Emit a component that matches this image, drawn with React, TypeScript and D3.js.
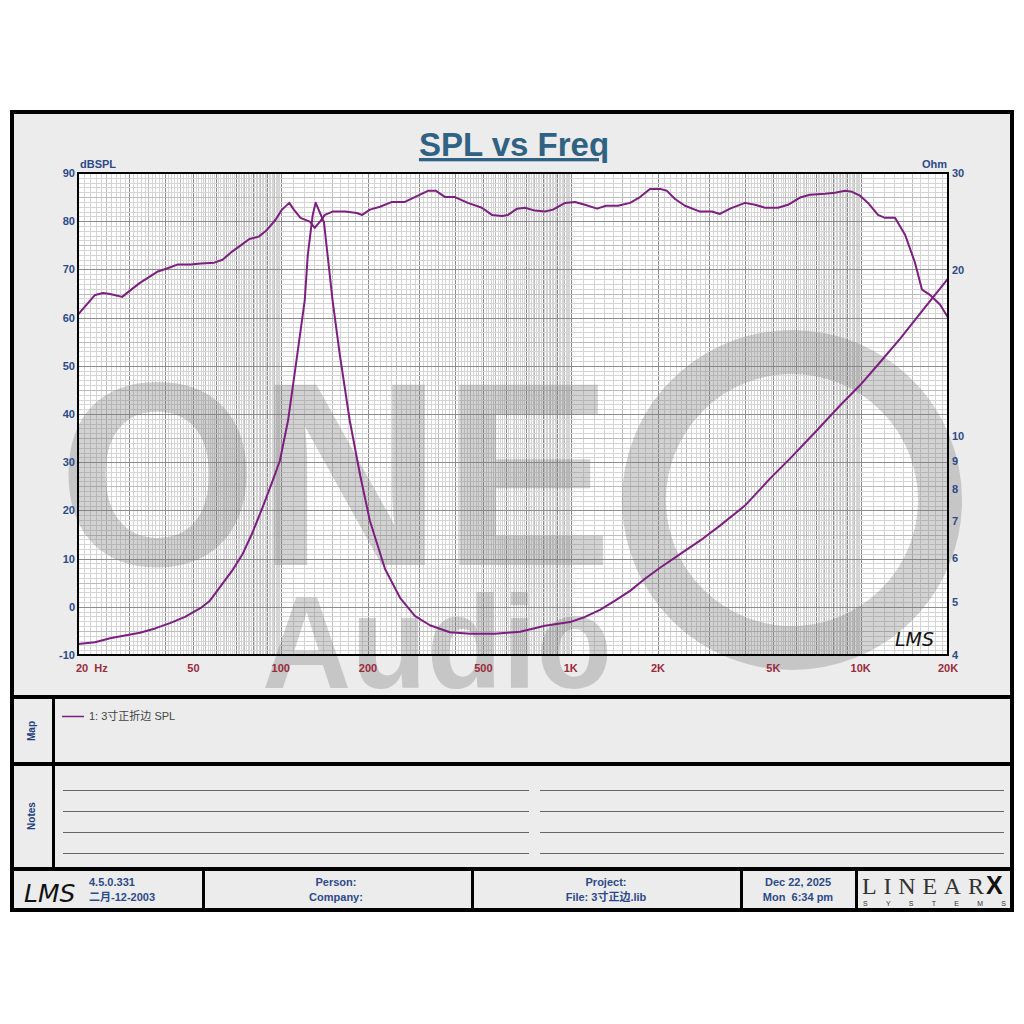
import { useEffect, useRef } from "react";
import * as d3 from "d3";

// SPL curve (Hz, dBSPL)
const splFreq = [20, 22.9, 24.4, 25.8, 28.4, 30.2, 32.7, 37.5, 41, 44, 49, 53, 59, 63, 68, 74, 78, 84, 89, 96, 101, 107, 111, 117, 126, 131, 137, 142, 151, 167, 183, 191, 203, 220, 242, 268, 290, 322, 343, 369, 399, 442, 494, 535, 580, 608, 653, 696, 753, 815, 869, 956, 1035, 1120, 1232, 1324, 1456, 1602, 1734, 1877, 2032, 2148, 2289, 2478, 2792, 3070, 3272, 3544, 3990, 4320, 4678, 5186, 5614, 6176, 6686, 7532, 8154, 8828, 9334, 9944, 10600, 11470, 12130, 13130, 14220, 15390, 16270, 17340, 18770, 20000];
const splDb = [60.6, 64.7, 65.1, 64.9, 64.3, 65.6, 67.2, 69.5, 70.3, 71, 71, 71.2, 71.4, 72, 73.7, 75.3, 76.3, 76.8, 78, 80.3, 82.4, 83.8, 82.4, 80.7, 79.9, 78.6, 80, 81.3, 82, 82, 81.7, 81.3, 82.4, 83, 84, 84, 85, 86.3, 86.3, 85, 85, 83.8, 82.8, 81.3, 81.1, 81.3, 82.6, 82.8, 82.2, 82, 82.4, 83.8, 84, 83.4, 82.6, 83.2, 83.2, 83.8, 85, 86.7, 86.7, 86.3, 84.6, 83.2, 82, 82, 81.5, 82.6, 83.8, 83.4, 82.8, 82.8, 83.4, 84.9, 85.5, 85.7, 85.9, 86.3, 86.1, 85.3, 83.8, 81.3, 80.7, 80.7, 77.2, 71.4, 65.8, 64.7, 62.7, 60];

// impedance curve (Hz, Ohm)
const impFreq = [20, 22.9, 25.8, 29, 32.7, 36.9, 41.5, 46.8, 53, 57, 63, 68, 74, 79.6, 86.2, 93.3, 99.4, 106, 112, 121, 124, 129, 132, 141, 151, 160, 173, 188, 203, 229, 258, 290, 327, 383, 450, 548, 669, 815, 994, 1120, 1262, 1422, 1602, 1804, 2032, 2382, 2792, 3272, 3990, 4866, 5704, 6950, 8486, 9944, 11660, 13660, 16660, 20000];
const impOhm = [4.19, 4.22, 4.29, 4.34, 4.39, 4.47, 4.57, 4.69, 4.87, 5.02, 5.39, 5.69, 6.11, 6.64, 7.37, 8.22, 9.02, 10.66, 13.1, 17.6, 21.3, 25.2, 26.5, 24.4, 17.6, 14, 10.66, 8.47, 7.01, 5.73, 5.08, 4.71, 4.53, 4.4, 4.37, 4.37, 4.41, 4.52, 4.59, 4.69, 4.83, 5.02, 5.23, 5.5, 5.76, 6.1, 6.45, 6.87, 7.47, 8.36, 9.09, 10.14, 11.35, 12.35, 13.6, 15.0, 17.1, 19.3];

const dbTicks = [90, 80, 70, 60, 50, 40, 30, 20, 10, 0, -10];
const ohmTicks = [30, 20, 10, 9, 8, 7, 6, 5, 4];
const freqTicks = [20, 50, 100, 200, 500, 1000, 2000, 5000, 10000, 20000];
const freqLabels = ["20  Hz", "50", "100", "200", "500", "1K", "2K", "5K", "10K", "20K"];

const legendLabel = "1: 3寸正折边 SPL";
const footerVersion = ["4.5.0.331", "二月-12-2003"];
const footerPerson = ["Person:", "Company:"];
const footerProject = ["Project:", "File: 3寸正边.lib"];
const footerDate = ["Dec 22, 2025", "Mon  6:34 pm"];

const FONT = "'Liberation Sans', Arial, 'Noto Sans CJK SC', sans-serif";
const BLUE = "#2c4a88";
const RED = "#9a2a3c";
const PURPLE = "#7c1f80";

export default function App() {
  const ref = useRef<SVGSVGElement | null>(null);

  useEffect(() => {
    const svg = d3.select(ref.current);
    svg.selectAll("*").remove();

    const L = 78, R = 948, T = 173, B = 655;
    const x = d3.scaleLog().domain([20, 20000]).range([L, R]);
    const yL = d3.scaleLinear().domain([-10, 90]).range([B, T]);
    const yR = d3.scaleLog().domain([4, 30]).range([B, T]);

    // panel background
    svg.append("rect").attr("x", 12).attr("y", 112).attr("width", 1000).attr("height", 798).attr("fill", "#ececec");

    // plot area
    svg.append("rect").attr("x", L).attr("y", T).attr("width", R - L).attr("height", B - T).attr("fill", "#fff");

    const grid = svg.append("g").attr("shape-rendering", "crispEdges");
    // vertical log grid
    const vlines: { f: number; k: number }[] = [];
    [10, 100, 1000, 10000].forEach((d) => {
      for (let n = 10; n < 100; n++) {
        const f = (n * d) / 10;
        if (f < 20 || f > 20000) continue;
        vlines.push({ f, k: n % 10 === 0 ? 2 : n % 5 === 0 ? 1 : 0 });
      }
    });
    vlines.push({ f: 20000, k: 2 });
    const gridColor = (k: number) => (k === 2 ? "#8c8c8c" : k === 1 ? "#bdbdbd" : "#d5d5d5");
    grid
      .selectAll("line.v")
      .data(vlines.sort((a, b) => a.k - b.k))
      .enter()
      .append("line")
      .attr("x1", (d) => Math.round(x(d.f)) + 0.5)
      .attr("x2", (d) => Math.round(x(d.f)) + 0.5)
      .attr("y1", T)
      .attr("y2", B)
      .attr("stroke", (d) => gridColor(d.k))
      .attr("stroke-width", 1);

    // horizontal grid, 1 dB steps
    const hlines = d3.range(-10, 91, 1).map((v) => ({ v, k: v % 10 === 0 ? 2 : v % 5 === 0 ? 1 : 0 }));
    grid
      .selectAll("line.h")
      .data(hlines.sort((a, b) => a.k - b.k))
      .enter()
      .append("line")
      .attr("x1", L)
      .attr("x2", R)
      .attr("y1", (d) => Math.round(yL(d.v)) + 0.5)
      .attr("y2", (d) => Math.round(yL(d.v)) + 0.5)
      .attr("stroke", (d) => gridColor(d.k))
      .attr("stroke-width", 1);

    // watermark
    const wm = svg.append("g").attr("opacity", 0.32).attr("fill", "#777");
    wm.append("text")
      .attr("x", 58)
      .attr("y", 565)
      .attr("font-family", FONT)
      .attr("font-weight", "bold")
      .attr("font-size", 262)
      .attr("textLength", 555)
      .attr("lengthAdjust", "spacingAndGlyphs")
      .text("ONE");
    wm.append("circle")
      .attr("cx", 792)
      .attr("cy", 500)
      .attr("r", 148)
      .attr("fill", "none")
      .attr("stroke", "#777")
      .attr("stroke-width", 44);
    wm.append("text")
      .attr("x", 262)
      .attr("y", 688)
      .attr("font-family", FONT)
      .attr("font-weight", "bold")
      .attr("font-size", 132)
      .attr("textLength", 350)
      .attr("lengthAdjust", "spacingAndGlyphs")
      .text("Audio");

    // curves
    const spl = splFreq.map((f, i) => [f, splDb[i]] as [number, number]);
    const imp = impFreq.map((f, i) => [f, impOhm[i]] as [number, number]);
    svg.append("path")
      .datum(spl)
      .attr("fill", "none")
      .attr("stroke", PURPLE)
      .attr("stroke-width", 2)
      .attr("stroke-linejoin", "round")
      .attr("d", d3.line<[number, number]>().x((d) => x(d[0])).y((d) => yL(d[1])));
    svg.append("path")
      .datum(imp)
      .attr("fill", "none")
      .attr("stroke", PURPLE)
      .attr("stroke-width", 2)
      .attr("stroke-linejoin", "round")
      .attr("d", d3.line<[number, number]>().x((d) => x(d[0])).y((d) => yR(d[1])));

    // plot border
    svg.append("rect")
      .attr("x", L)
      .attr("y", T)
      .attr("width", R - L)
      .attr("height", B - T)
      .attr("fill", "none")
      .attr("stroke", "#000")
      .attr("stroke-width", 2);

    // LMS signature inside plot
    svg.append("text")
      .attr("x", 895)
      .attr("y", 646)
      .attr("font-family", "'DejaVu Sans', sans-serif")
      .attr("font-style", "italic")
      .attr("font-size", 19)
      .attr("fill", "#111")
      .text("LMS");

    // title
    svg.append("text")
      .attr("x", 514)
      .attr("y", 156)
      .attr("text-anchor", "middle")
      .attr("font-family", FONT)
      .attr("font-weight", "bold")
      .attr("font-size", 33)
      .attr("fill", "#2f6283")
      .attr("text-decoration", "underline")
      .text("SPL vs Freq");

    // axis labels
    const axisText = (sel: any) =>
      sel.attr("font-family", FONT).attr("font-weight", "bold").attr("font-size", 11);
    svg.selectAll("text.yl")
      .data(dbTicks)
      .enter()
      .append("text")
      .call(axisText)
      .attr("x", 75)
      .attr("y", (d: number) => yL(d) + 4)
      .attr("text-anchor", "end")
      .attr("fill", BLUE)
      .text((d: number) => d);
    svg.selectAll("text.yr")
      .data(ohmTicks)
      .enter()
      .append("text")
      .call(axisText)
      .attr("x", 952)
      .attr("y", (d: number) => yR(d) + 4)
      .attr("fill", BLUE)
      .text((d: number) => d);
    svg.selectAll("text.xb")
      .data(freqTicks)
      .enter()
      .append("text")
      .call(axisText)
      .attr("x", (d: number, i: number) => (i === 0 ? 76 : x(d)))
      .attr("y", 672)
      .attr("text-anchor", (d: number, i: number) => (i === 0 ? "start" : "middle"))
      .attr("fill", RED)
      .attr("xml:space", "preserve")
      .style("white-space", "pre")
      .text((d: number, i: number) => freqLabels[i]);
    svg.append("text").call(axisText).attr("x", 80).attr("y", 168).attr("fill", BLUE).text("dBSPL");
    svg.append("text").call(axisText).attr("x", 947).attr("y", 168).attr("text-anchor", "end").attr("fill", BLUE).text("Ohm");

    // map section
    svg.append("line").attr("x1", 62).attr("x2", 84).attr("y1", 716.5).attr("y2", 716.5).attr("stroke", PURPLE).attr("stroke-width", 1.5);
    svg.append("text")
      .attr("x", 89)
      .attr("y", 720)
      .attr("font-family", FONT)
      .attr("font-size", 11)
      .attr("fill", "#444")
      .text(legendLabel);

    const sideLabel = (t: string, cy: number) =>
      svg.append("text")
        .attr("transform", `translate(35,${cy}) rotate(-90)`)
        .attr("text-anchor", "middle")
        .attr("font-family", FONT)
        .attr("font-weight", "bold")
        .attr("font-size", 10)
        .attr("fill", "#1f3f80")
        .text(t);
    sideLabel("Map", 731);
    sideLabel("Notes", 816);

    // notes lines
    [790, 811, 832, 853].forEach((yy) => {
      svg.append("line").attr("x1", 63).attr("x2", 529).attr("y1", yy + 0.5).attr("y2", yy + 0.5).attr("stroke", "#666");
      svg.append("line").attr("x1", 540).attr("x2", 1004).attr("y1", yy + 0.5).attr("y2", yy + 0.5).attr("stroke", "#666");
    });

    // frame lines
    const frame = svg.append("g").attr("stroke", "#000").attr("fill", "none");
    frame.append("rect").attr("x", 12).attr("y", 112).attr("width", 1000).attr("height", 798).attr("stroke-width", 4);
    [697, 764, 869].forEach((yy) =>
      frame.append("line").attr("x1", 12).attr("x2", 1012).attr("y1", yy).attr("y2", yy).attr("stroke-width", 4)
    );
    frame.append("line").attr("x1", 53.5).attr("x2", 53.5).attr("y1", 697).attr("y2", 869).attr("stroke-width", 3);
    [203.5, 472.5, 741.5, 856.5].forEach((xx) =>
      frame.append("line").attr("x1", xx).attr("x2", xx).attr("y1", 869).attr("y2", 910).attr("stroke-width", 3)
    );

    // footer
    const ftext = (lines: string[], xx: number, anchor: string) =>
      lines.forEach((t, i) =>
        svg.append("text")
          .attr("x", xx)
          .attr("y", 886 + i * 15)
          .attr("text-anchor", anchor)
          .attr("font-family", FONT)
          .attr("font-weight", "bold")
          .attr("font-size", 11)
          .attr("fill", BLUE)
          .attr("xml:space", "preserve")
          .style("white-space", "pre")
          .text(t)
      );
    ftext(footerVersion, 89, "start");
    ftext(footerPerson, 336, "middle");
    ftext(footerProject, 606, "middle");
    ftext(footerDate, 798, "middle");

    svg.append("text")
      .attr("x", 24)
      .attr("y", 902)
      .attr("font-family", "'DejaVu Sans', sans-serif")
      .attr("font-style", "italic")
      .attr("font-size", 25)
      .attr("fill", "#111")
      .text("LMS");

    // LinearX logo
    svg.append("text")
      .attr("x", 862)
      .attr("y", 894)
      .attr("font-family", "'Liberation Serif', serif")
      .attr("font-size", 24)
      .attr("fill", "#333")
      .attr("textLength", 122)
      .attr("lengthAdjust", "spacing")
      .text("LINEAR");
    svg.append("text")
      .attr("x", 986)
      .attr("y", 894)
      .attr("font-family", FONT)
      .attr("font-weight", "900")
      .attr("font-size", 25)
      .attr("fill", "#111")
      .text("X");
    svg.append("text")
      .attr("x", 863)
      .attr("y", 906)
      .attr("font-family", FONT)
      .attr("font-size", 7)
      .attr("fill", "#333")
      .attr("textLength", 143)
      .attr("lengthAdjust", "spacing")
      .text("SYSTEMS");
  }, []);

  return (
    <svg
      ref={ref}
      width={1024}
      height={1024}
      style={{ position: "absolute", left: 0, top: 0, background: "#fff" }}
    />
  );
}
